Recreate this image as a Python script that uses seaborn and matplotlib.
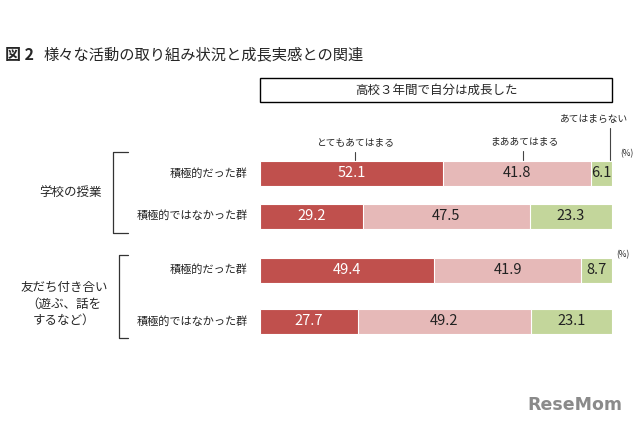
import numpy as np
import pandas as pd
import seaborn as sns
import matplotlib.pyplot as plt
from matplotlib.patches import Rectangle

sns.set_theme(style="white")
plt.rcParams['font.family'] = ['Noto Sans CJK JP', 'DejaVu Sans']

# data
rows = ['積極的だった群', '積極的ではなかった群', '積極的だった群', '積極的ではなかった群']
very = [52.1, 29.2, 49.4, 27.7]      # とてもあてはまる
some = [41.8, 47.5, 41.9, 49.2]      # まああてはまる
no = [6.1, 23.3, 8.7, 23.1]          # あてはまらない
groups = ['学校の授業', '友だち付き合い\n（遊ぶ、話を\nするなど）']

# layout (pixel rows, axes spans the whole figure height)
row_y = [173, 216, 270, 321]
colors = ['#C0504D', '#E6B9B8', '#C3D69B']

df = pd.DataFrame({'row': row_y, 'very': very, 'some': some, 'no': no})
df['c1'] = df['very']
df['c2'] = df['very'] + df['some']
df['c3'] = df['c2'] + df['no']

fig = plt.figure(figsize=(6.4, 4.26), dpi=100)
W, H = 640, 426
ax = fig.add_axes([260 / W, 0, 352 / W, 1])

# stacked bars: draw cumulative totals, largest first
bw = 25 / 43
for col, c in zip(['c3', 'c2', 'c1'], colors[::-1]):
    sns.barplot(data=df, x=col, y='row', orient='h', native_scale=True,
                width=bw, color=c, saturation=1, edgecolor='white', linewidth=0.8, ax=ax)
ax.set_xlim(0, 100)
ax.set_ylim(H, 0)
ax.axis('off')

for i, y in enumerate(row_y):
    ax.text(very[i] / 2, y, f'{very[i]:.1f}', ha='center', va='center',
            color='white', fontsize=10.5)
    ax.text(very[i] + some[i] / 2, y, f'{some[i]:.1f}', ha='center', va='center',
            color='#222222', fontsize=10.5)
    ax.text(very[i] + some[i] + no[i] / 2, y, f'{no[i]:.1f}', ha='center', va='center',
            color='#222222', fontsize=10.5)


def fx(px):
    return px / W


def fy(py):
    return 1 - py / H


# title
fig.text(fx(5), fy(55), '図 2', fontsize=11.5, fontweight='bold', va='center', ha='left')
fig.text(fx(44), fy(55), '様々な活動の取り組み状況と成長実感との関連', fontsize=11,
         va='center', ha='left')

# header box
fig.add_artist(Rectangle((fx(260), fy(102)), 352 / W, 24 / H, transform=fig.transFigure,
                         fill=False, edgecolor='black', linewidth=1))
fig.text(fx(436), fy(90), '高校３年間で自分は成長した', fontsize=9, ha='center', va='center')

# category callouts
fig.text(fx(355), fy(142), 'とてもあてはまる', fontsize=7, ha='center', va='center')
fig.add_artist(plt.Line2D([fx(355)] * 2, [fy(152), fy(160)], transform=fig.transFigure,
                          color='#444444', linewidth=0.8))
fig.text(fx(524), fy(141), 'まああてはまる', fontsize=7, ha='center', va='center')
fig.add_artist(plt.Line2D([fx(523)] * 2, [fy(151), fy(160)], transform=fig.transFigure,
                          color='#444444', linewidth=0.8))
fig.text(fx(594), fy(119), 'あてはまらない', fontsize=7, ha='center', va='center')
fig.add_artist(plt.Line2D([fx(610)] * 2, [fy(128), fy(160)], transform=fig.transFigure,
                          color='#444444', linewidth=0.8))
fig.text(fx(627), fy(154), '(%)', fontsize=6, ha='center', va='center')
fig.text(fx(623), fy(255), '(%)', fontsize=6, ha='center', va='center')

# row labels
for lab, y in zip(rows, row_y):
    fig.text(fx(248), fy(y), lab, fontsize=8, ha='right', va='center', color='#222222')

# group labels and brackets
fig.text(fx(70), fy(193), groups[0], fontsize=9, ha='center', va='center')
fig.text(fx(64), fy(304), groups[1], fontsize=9, ha='center', va='center', linespacing=1.35)
for x0, x1, y0, y1 in [(113, 128, 152, 233), (119, 128, 255, 338)]:
    fig.add_artist(plt.Line2D([fx(x1), fx(x0), fx(x0), fx(x1)],
                              [fy(y0), fy(y0), fy(y1), fy(y1)],
                              transform=fig.transFigure, color='#333333', linewidth=0.9))

# watermark
fig.text(fx(575), fy(405), 'ReseMom', fontsize=12.5, fontweight='bold', color='#8a8a8a',
         ha='center', va='center', family=['DejaVu Sans'])

fig.savefig('out.png', dpi=100)
